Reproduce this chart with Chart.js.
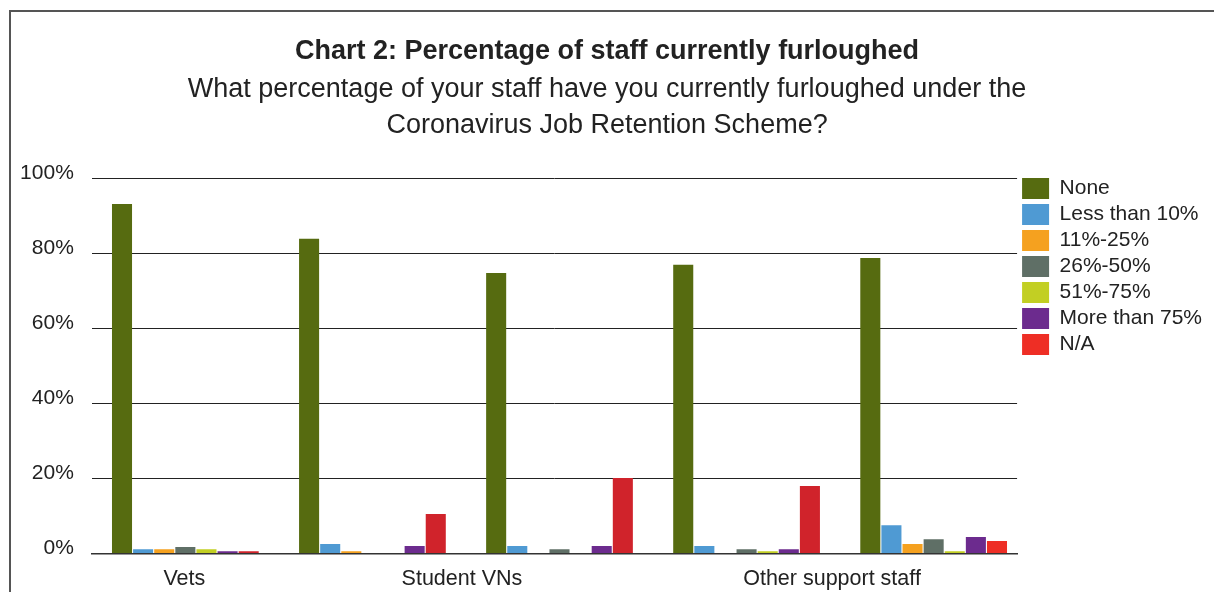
<!DOCTYPE html>
<html>
<head>
<meta charset="utf-8">
<script src="https://cdn.jsdelivr.net/npm/chart.js@4"></script>
<style>
    body { margin: 0; background: #fff; }
    #frame {
        position: absolute; left: 9px; top: 10px; width: 1205px; height: 582px;
        border-top: 2px solid #555; border-left: 2px solid #555;
    }
    #chart { position: absolute; left: 0; top: 0; }
</style>
</head>
<body>
<div id="frame"><canvas id="chart" width="1203" height="580"></canvas></div>
<script>
const font = "'Liberation Sans', Arial, sans-serif";
const ink = "#222";

// axis labels and where they sit on the 0..5 label axis
const categories = ["Vets", "Student VNs", "Other support staff"];
const labelPos = [0.5, 2, 4];

// one slot per bar group
const groupPos = [0, 1, 2, 3, 4];

const seriesNames = ["None", "Less than 10%", "11%-25%", "26%-50%", "51%-75%", "More than 75%", "N/A"];
const seriesColors = ["#566b10", "#4f9ad3", "#f5a11f", "#5f6f66", "#c2cf23", "#6c2b8e", "#ee2e25"];
const naColors = ["#d0232b", "#d0232b", "#d0232b", "#d0232b", "#ee2e25"];

const none = [93.1, 83.8, 74.7, 76.9, 78.7];
const lessThan10 = [1.1, 2.5, 2.0, 2.0, 7.5];
const pct11to25 = [1.1, 0.6, 0, 0, 2.5];
const pct26to50 = [1.7, 0, 1.1, 1.1, 3.8];
const pct51to75 = [1.1, 0, 0, 0.6, 0.6];
const moreThan75 = [0.6, 2.0, 2.0, 1.1, 4.4];
const notApplicable = [0.6, 10.5, 20.1, 18.0, 3.3];

const yTicks = [0, 20, 40, 60, 80, 100];

const series = [none, lessThan10, pct11to25, pct26to50, pct51to75, moreThan75, notApplicable];

const datasets = series.map((vals, s) => ({
    label: seriesNames[s],
    data: vals.map((v, i) => ({x: groupPos[i], y: v})),
    backgroundColor: s === 6 ? naColors : seriesColors[s],
    borderWidth: 0,
    categoryPercentage: 0.79,
    barPercentage: 0.95
}));

new Chart(document.getElementById("chart"), {
    type: "bar",
    data: {datasets: datasets},
    options: {
        responsive: false,
        animation: false,
        layout: {padding: {left: -8.9, right: 2, top: 0, bottom: -12.7}},
        plugins: {
            tooltip: {enabled: false},
            title: {
                display: true,
                text: "Chart 2: Percentage of staff currently furloughed",
                color: ink,
                font: {family: font, size: 27, weight: "bold"},
                padding: {top: 23.8, bottom: 3.8}
            },
            subtitle: {
                display: true,
                text: ["What percentage of your staff have you currently furloughed under the",
                       "Coronavirus Job Retention Scheme?"],
                color: ink,
                font: {family: font, size: 27, lineHeight: "36px"},
                padding: {top: 0, bottom: 34}
            },
            legend: {
                position: "right",
                align: "start",
                fullSize: false,
                // empty title with negative padding lifts the first row to the plot top
                title: {display: true, text: "", font: {size: 1, lineHeight: 0}, padding: {top: -5, bottom: 0}},
                labels: {
                    boxWidth: 27,
                    boxHeight: 21,
                    padding: 5,
                    color: ink,
                    font: {family: font, size: 21},
                    generateLabels: (chart) => {
                        const items = Chart.defaults.plugins.legend.labels.generateLabels(chart);
                        items.forEach((it, i) => { it.fillStyle = seriesColors[i]; it.lineWidth = 0; });
                        return items;
                    }
                }
            }
        },
        scales: {
            x: {
                type: "linear",
                display: false,
                offset: false,
                min: -0.5,
                max: 4.446,
                afterBuildTicks: (scale) => { scale.ticks = groupPos.map(v => ({value: v})); }
            },
            x2: {
                type: "linear",
                position: "bottom",
                offset: false,
                min: 0,
                max: 5,
                grid: {display: false, drawTicks: false},
                border: {display: true, color: "#333", width: 1.5},
                afterBuildTicks: (scale) => { scale.ticks = labelPos.map(v => ({value: v})); },
                ticks: {
                    autoSkip: false,
                    maxRotation: 0,
                    padding: 12.7,
                    color: ink,
                    font: {family: font, size: 21.5},
                    callback: (v, i) => categories[i]
                }
            },
            y: {
                min: 0,
                max: 100,
                afterBuildTicks: (scale) => { scale.ticks = yTicks.map(v => ({value: v})); },
                grid: {color: ink, lineWidth: 1, drawTicks: false},
                border: {display: false},
                ticks: {
                    padding: 18,
                    labelOffset: -5,
                    color: ink,
                    font: {family: font, size: 21},
                    callback: (v) => v + "%"
                }
            }
        }
    }
});
</script>
</body>
</html>
